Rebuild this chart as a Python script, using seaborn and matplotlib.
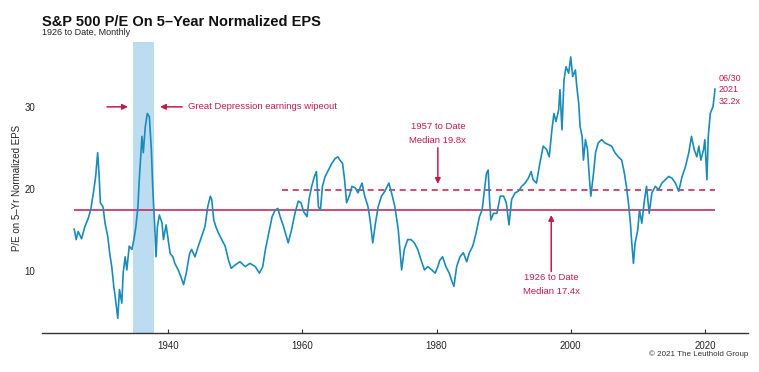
import matplotlib
matplotlib.use("Agg")
import matplotlib.pyplot as plt
import seaborn as sns
import pandas as pd

# ---- data ----
years = [
    1926.0, 1926.3, 1926.6, 1927.1, 1927.6, 1928.1, 1928.5, 1928.9, 1929.2, 1929.5,
    1929.7, 1929.9, 1930.3, 1930.6, 1931.0, 1931.3, 1931.6, 1931.9, 1932.1, 1932.5,
    1932.75, 1933.1, 1933.3, 1933.6, 1933.85, 1934.2, 1934.6, 1934.9, 1935.2, 1935.5,
    1935.7, 1936.1, 1936.3, 1936.6, 1936.9, 1937.2, 1937.5, 1937.7, 1938.0, 1938.2,
    1938.4, 1938.7, 1939.1, 1939.3, 1939.7, 1940.0, 1940.3, 1940.7, 1941.0, 1941.5,
    1941.9, 1942.3, 1942.7, 1943.2, 1943.5, 1944.0, 1944.5, 1945.0, 1945.5, 1945.9,
    1946.3, 1946.5, 1946.8, 1947.1, 1947.5, 1948.0, 1948.5, 1949.0, 1949.4, 1950.0,
    1950.7, 1951.5, 1952.2, 1953.0, 1953.6, 1954.1, 1954.5, 1955.0, 1955.5, 1955.95,
    1956.35, 1956.7, 1957.2, 1957.9, 1958.4, 1958.9, 1959.4, 1959.8, 1960.2, 1960.7,
    1961.0, 1961.4, 1961.8, 1962.1, 1962.4, 1962.7, 1963.0, 1963.4, 1963.9, 1964.4,
    1964.9, 1965.3, 1965.6, 1966.0, 1966.3, 1966.6, 1967.0, 1967.4, 1967.9, 1968.3,
    1968.9, 1969.3, 1969.8, 1970.1, 1970.5, 1970.9, 1971.3, 1971.8, 1972.3, 1972.9,
    1973.3, 1973.8, 1974.3, 1974.8, 1975.2, 1975.7, 1976.2, 1976.7, 1977.2, 1977.7,
    1978.2, 1978.7, 1979.3, 1979.8, 1980.2, 1980.5, 1980.9, 1981.4, 1981.9, 1982.3,
    1982.6, 1983.0, 1983.5, 1984.0, 1984.5, 1984.9, 1985.4, 1985.9, 1986.4, 1986.8,
    1987.15, 1987.45, 1987.7, 1987.9, 1988.1, 1988.5, 1989.0, 1989.5, 1990.0, 1990.4,
    1990.8, 1991.2, 1991.7, 1992.2, 1992.7, 1993.2, 1993.7, 1994.1, 1994.4, 1994.9,
    1995.4, 1995.9, 1996.4, 1996.8, 1997.2, 1997.5, 1997.8, 1998.2, 1998.4, 1998.7,
    1999.0, 1999.3, 1999.7, 2000.0, 2000.3, 2000.7, 2000.9, 2001.2, 2001.4, 2001.7,
    2001.9, 2002.2, 2002.5, 2002.8, 2003.0, 2003.4, 2003.7, 2004.1, 2004.6, 2005.1,
    2005.6, 2006.1, 2006.6, 2007.1, 2007.6, 2008.0, 2008.3, 2008.6, 2008.9, 2009.1,
    2009.35, 2009.6, 2010.0, 2010.25, 2010.6, 2011.0, 2011.3, 2011.7, 2012.1, 2012.6,
    2013.1, 2013.6, 2014.1, 2014.6, 2015.1, 2015.6, 2016.1, 2016.6, 2017.1, 2017.6,
    2018.0, 2018.4, 2018.8, 2019.1, 2019.4, 2019.8, 2020.0, 2020.3, 2020.5, 2020.8,
    2021.2, 2021.45, 2021.5,
]
pe = [
    15.1, 13.8, 14.8, 13.9, 15.4, 16.4, 17.6, 19.7, 21.5, 24.4,
    21.9, 18.3, 17.8, 15.8, 14.2, 12.1, 10.5, 8.1, 6.9, 4.2,
    7.7, 6.05, 9.7, 11.7, 10.1, 13.0, 12.6, 13.8, 15.4, 17.8,
    21.1, 26.4, 24.4, 27.6, 29.2, 28.8, 24.8, 20.3, 15.4, 11.7,
    15.4, 16.8, 15.8, 13.8, 15.6, 13.8, 12.1, 11.7, 10.9, 10.1,
    9.3, 8.3, 9.7, 12.1, 12.6, 11.7, 13.0, 14.2, 15.4, 17.8,
    19.1, 18.7, 16.2, 15.4, 14.6, 13.8, 13.0, 11.3, 10.3, 10.7,
    11.1, 10.5, 10.9, 10.5, 9.7, 10.5, 12.6, 14.6, 16.6, 17.4,
    17.6, 16.6, 15.4, 13.4, 15.0, 17.0, 18.5, 18.3, 17.2, 16.6,
    18.7, 20.3, 21.5, 22.1, 17.8, 17.4, 20.3, 21.5, 22.3, 23.1,
    23.7, 23.9, 23.5, 23.1, 21.1, 18.3, 19.1, 20.3, 20.1, 19.5,
    20.7, 19.1, 17.8, 16.2, 13.4, 15.8, 17.8, 19.1, 19.7, 20.7,
    19.5, 17.8, 15.0, 10.1, 12.6, 13.8, 13.8, 13.4, 12.6, 11.3,
    10.1, 10.5, 10.1, 9.7, 10.5, 11.3, 11.7, 10.5, 9.7, 8.7,
    8.1, 10.5, 11.7, 12.2, 11.1, 12.2, 13.0, 14.6, 16.6, 17.4,
    19.9, 21.9, 22.3, 18.7, 16.2, 17.0, 17.0, 19.1, 19.1, 18.3,
    15.6, 18.7, 19.5, 19.7, 20.3, 20.7, 21.3, 22.1, 21.1, 20.7,
    23.1, 25.2, 24.8, 23.9, 27.2, 29.2, 28.2, 29.6, 32.1, 27.2,
    33.3, 34.9, 34.1, 36.1, 33.7, 34.5, 32.5, 30.4, 27.6, 26.4,
    23.5, 26.0, 24.8, 21.1, 19.1, 21.9, 24.4, 25.6, 26.0, 25.6,
    25.4, 25.2, 24.4, 23.9, 23.5, 21.9, 20.3, 18.3, 15.8, 13.4,
    10.9, 13.4, 15.0, 17.4, 15.8, 18.7, 20.3, 17.0, 19.5, 20.3,
    19.9, 20.7, 21.1, 21.5, 21.3, 20.7, 19.7, 21.5, 22.7, 24.4,
    26.4, 24.8, 23.9, 25.2, 23.5, 24.8, 26.0, 21.1, 26.4, 29.2,
    30.0, 31.7, 32.2,
]
median_all = 17.4
median_1957 = 19.8
start_all = 1926.0
start_1957 = 1957.0
end_year = 2021.5
depression_span = (1934.8, 1937.9)
xticks = [1940, 1960, 1980, 2000, 2020]
yticks = [10, 20, 30]

LINE = "#1b8cba"
RED = "#c41a4b"
BAND = "#bcdcf2"

sns.set_theme(style="white")
plt.rcParams["font.family"] = ["Liberation Sans", "DejaVu Sans"]

fig = plt.figure(figsize=(7.59, 3.72), dpi=100)
ax = fig.add_axes([0.0553, 0.1048, 0.930, 0.782])

df = pd.DataFrame({"year": years, "pe": pe})
ax.axvspan(*depression_span, color=BAND, lw=0, zorder=0)
sns.lineplot(data=df, x="year", y="pe", ax=ax, color=LINE, lw=1.2, zorder=3)

ax.hlines(median_all, start_all, end_year, color=RED, lw=1.1, zorder=2)
ax.hlines(median_1957, start_1957, end_year, color=RED, lw=1.1, ls=(0, (4, 3)), zorder=2)

ax.set_xlim(1921.2, 2026.4)
ax.set_ylim(2.4, 37.9)
ax.set_xticks(xticks)
ax.set_yticks(yticks)
ax.set_xlabel("")
ax.set_ylabel("P/E on 5\u2013Yr Normalized EPS", fontsize=7, labelpad=2)
for s in ["top", "right", "left"]:
    ax.spines[s].set_visible(False)
ax.spines["bottom"].set_color("#333333")
ax.spines["bottom"].set_linewidth(1.0)
ax.tick_params(axis="x", direction="in", length=3, width=0.8, color="#333333",
               labelsize=7, pad=6, bottom=True)
ax.tick_params(axis="y", length=0, labelsize=7, pad=5)
ax.grid(False)

ap = dict(arrowstyle="-|>", color=RED, lw=1.1, mutation_scale=8, shrinkA=0, shrinkB=0)
ax.annotate("", xy=(1934.0, 30), xytext=(1930.9, 30), arrowprops=ap)
ax.annotate("", xy=(1938.8, 30), xytext=(1942.1, 30), arrowprops=ap)
ax.text(1943.0, 30, "Great Depression earnings wipeout", color=RED, fontsize=6.8,
        va="center", ha="left")

ax.text(1980.2, 27.56, "1957 to Date", color=RED, fontsize=6.8, ha="center", va="center")
ax.text(1980.2, 25.85, "Median 19.8x", color=RED, fontsize=6.8, ha="center", va="center")
ax.annotate("", xy=(1980.2, 20.6), xytext=(1980.2, 25.0), arrowprops=ap)

ax.annotate("", xy=(1997.1, 16.8), xytext=(1997.1, 9.9), arrowprops=ap)
ax.text(1997.1, 9.15, "1926 to Date", color=RED, fontsize=6.8, ha="center", va="center")
ax.text(1997.1, 7.44, "Median 17.4x", color=RED, fontsize=6.8, ha="center", va="center")

for yv, t in zip([33.5, 32.1, 30.7], ["06/30", "2021", "32.2x"]):
    ax.text(2022.1, yv, t, color=RED, fontsize=6.5, ha="left", va="center")

fig.text(42 / 759, 1 - 22 / 372, "S&P 500 P/E On 5\u2013Year Normalized EPS",
         fontsize=10.5, fontweight="bold", ha="left", va="center", color="#111111")
fig.text(42 / 759, 1 - 32.5 / 372, "1926 to Date, Monthly", fontsize=6.5,
         ha="left", va="center", color="#222222")
fig.text(748 / 759, 1 - 354 / 372, "\u00a9 2021 The Leuthold Group", fontsize=5.8,
         ha="right", va="center", color="#333333")

fig.savefig("out.png", dpi=100)
